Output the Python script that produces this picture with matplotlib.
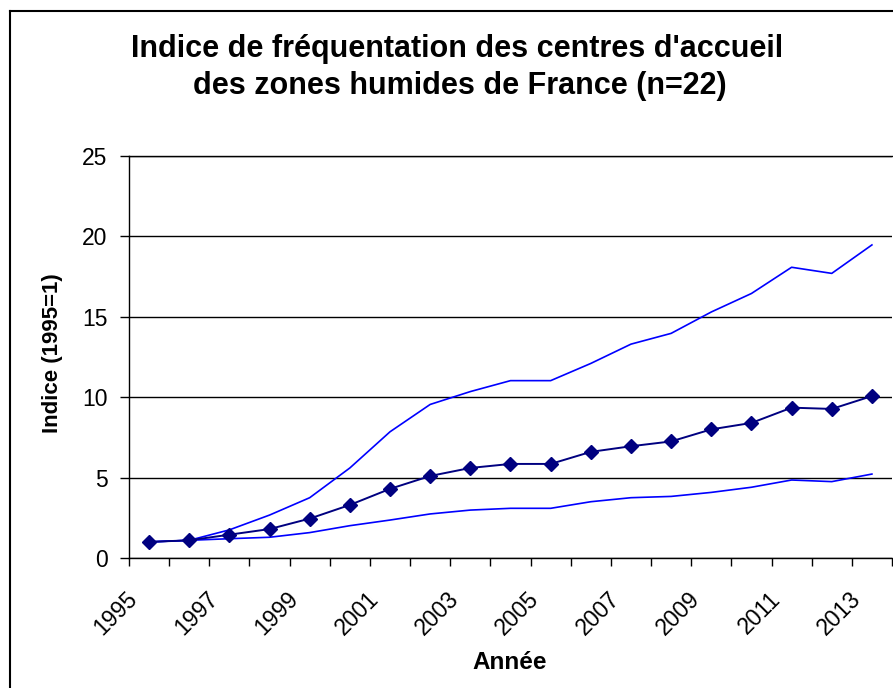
import matplotlib
matplotlib.use("Agg")
from matplotlib import pyplot as plt
from matplotlib.lines import Line2D
from matplotlib.transforms import ScaledTranslation

plt.rcParams['font.family'] = ['Liberation Sans', 'DejaVu Sans']

# data
years = list(range(1995, 2014))
indice_moyen = [1.0, 1.1, 1.45, 1.8, 2.45, 3.3, 4.3, 5.1, 5.6, 5.85, 5.85,
                6.6, 6.95, 7.25, 8.0, 8.4, 9.35, 9.27, 10.07]
indice_haut = [1.0, 1.1, 1.75, 2.67, 3.75, 5.6, 7.85, 9.55, 10.35, 11.03, 11.03,
               12.1, 13.3, 13.97, 15.3, 16.45, 18.08, 17.7, 19.47]
indice_bas = [1.0, 1.1, 1.2, 1.29, 1.58, 2.01, 2.36, 2.74, 2.98, 3.09, 3.09,
              3.5, 3.75, 3.83, 4.08, 4.4, 4.85, 4.75, 5.22]
y_ticks = [0, 5, 10, 15, 20, 25]

W, H = 893, 688
fig = plt.figure(figsize=(W / 100, H / 100), dpi=100)
ax = fig.add_axes([129 / W, 1 - 558 / H, (892 - 129) / W, (558 - 156) / H])

x = list(range(len(years)))
ax.plot(x, indice_haut, color='#0000ff', lw=1.2)
ax.plot(x, indice_bas, color='#0000ff', lw=1.2)
ax.plot(x, indice_moyen, color='#000080', lw=1.4, marker='D', ms=7.5,
        zorder=3)

ax.set_xlim(-0.5, len(years) - 0.5)
ax.set_ylim(0, 25)

# ticks sit between categories, labels every other year
bounds = [i - 0.5 for i in range(len(years) + 1)]
labels = [str(years[i]) if i % 2 == 0 and i < len(years) else ''
          for i in range(len(bounds))]
ax.set_xticks(bounds)
ax.set_xticklabels(labels, rotation=45, ha='right', va='center',
                   rotation_mode='anchor', fontsize=16.5)
ax.tick_params(axis='x', direction='out', length=6, width=1, pad=21)
shift = ScaledTranslation(5 / 100, 0, fig.dpi_scale_trans)
for lbl in ax.get_xticklabels():
    lbl.set_transform(lbl.get_transform() + shift)
ax.set_yticks(y_ticks)
ax.tick_params(axis='y', direction='out', length=6.5, width=1, pad=9,
               labelsize=16.5)

ax.yaxis.grid(True, color='black', lw=1)
ax.set_axisbelow(True)
for s in ['top', 'right']:
    ax.spines[s].set_visible(False)
for s in ['left', 'bottom']:
    ax.spines[s].set_linewidth(1)
ax.plot([-0.5, len(years) - 0.5], [25, 25], color='black', lw=1,
        clip_on=False)

fig.text(510 / W, 1 - 669 / H, 'Année', ha='center', va='baseline',
         fontsize=17.5, fontweight='bold')
fig.text(53 / W, 1 - 353 / H, 'Indice (1995=1)', ha='center', va='center',
         rotation=90, fontsize=16, fontweight='bold')

fig.text(457 / W, 1 - 57 / H, "Indice de fréquentation des centres d'accueil",
         ha='center', va='baseline', fontsize=22, fontweight='bold')
fig.text(460 / W, 1 - 94 / H, 'des zones humides de France (n=22)',
         ha='center', va='baseline', fontsize=22, fontweight='bold')

# chart frame (right and bottom edges are cut off in the reference)
fig.add_artist(Line2D([9.5 / W, 9.5 / W], [0, 1 - 11 / H], color='black', lw=1.5))
fig.add_artist(Line2D([9.5 / W, 1], [1 - 11 / H, 1 - 11 / H], color='black', lw=1.5))

fig.savefig('out.png', dpi=100)
